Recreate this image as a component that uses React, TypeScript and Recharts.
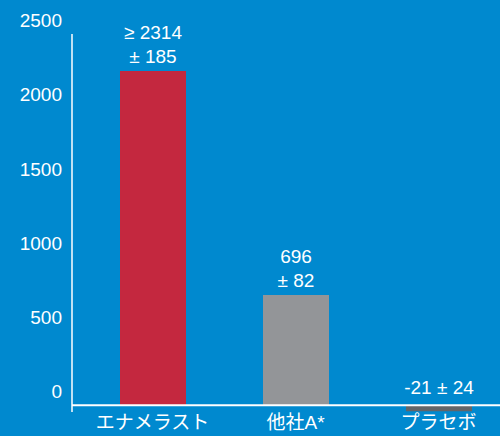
import React from "react";
import { BarChart, Bar, XAxis, YAxis, Cell, LabelList, ReferenceLine } from "recharts";

const categories = ["エナメラスト", "他社A*", "プラセボ"];
const values = [2251, 743, -40];
const labelTop = ["≥ 2314", "696", ""];
const labelBottom = ["± 185", "± 82", "-21 ± 24"];
const yTicks = [0, 500, 1000, 1500, 2000, 2500];
const barColors = ["#c4283f", "#939598", "#636569"];

const data = categories.map((name, i) => ({ name, value: values[i], idx: i }));

const BG = "#0089cf";
const FONT = "'Liberation Sans', Arial, 'Noto Sans CJK JP', sans-serif";

const YTick = (props: any) => {
  const { x, y, payload } = props;
  return (
    <g>
      <text x={x} y={y - 7} textAnchor="end" fill="#fff" fontSize={19} fontFamily={FONT}>
        {payload.value}
      </text>
    </g>
  );
};

const XTick = (props: any) => {
  const { x, y, payload } = props;
  return (
    <text x={x} y={y + 16.5} textAnchor="middle" fill="#fff" fontSize={19} fontFamily={FONT}>
      {payload.value}
    </text>
  );
};

const ValueLabel = (props: any) => {
  const { x, y, width, height, index } = props;
  const top = Math.min(y, y + height);
  const cx = x + width / 2;
  const neg = values[index] < 0;
  const t1 = labelTop[index];
  const t2 = labelBottom[index];
  return (
    <g fill="#fff" fontSize={19} fontFamily={FONT}>
      {t1 ? (
        <text x={cx} y={top - 32} textAnchor="middle">
          {t1}
        </text>
      ) : null}
      <text x={cx} y={neg ? top - 11 : top - 8.2} textAnchor="middle">
        {t2}
      </text>
    </g>
  );
};

export default function App() {
  return (
    <div
      style={{
        position: "absolute",
        left: 0,
        top: 0,
        width: 500,
        height: 436,
        overflow: "hidden",
        background: BG,
      }}
    >
      <BarChart
        width={510}
        height={436}
        data={data}
        margin={{ top: 34, right: 0, left: 0, bottom: 0 }}
        barSize={66}
      >
        <XAxis
          dataKey="name"
          type="category"
          height={24}
          padding={{ left: 9, right: 0 }}
          axisLine={false}
          tickLine={false}
          tickSize={0}
          tickMargin={0}
          tick={<XTick />}
          interval={0}
        />
        <YAxis
          type="number"
          domain={[-45, 2500]}
          ticks={yTicks}
          width={72}
          axisLine={{ stroke: "#ffffff", strokeWidth: 1.5 }}
          tickLine={false}
          tickSize={0}
          tickMargin={10}
          tick={<YTick />}
          interval={0}
        />
        <Bar dataKey="value" isAnimationActive={false}>
          {data.map((d, i) => (
            <Cell key={d.name} fill={barColors[i]} />
          ))}
          <LabelList dataKey="value" content={<ValueLabel />} />
        </Bar>
        <ReferenceLine y={0} stroke="#ffffff" strokeWidth={2} />
      </BarChart>
    </div>
  );
}
